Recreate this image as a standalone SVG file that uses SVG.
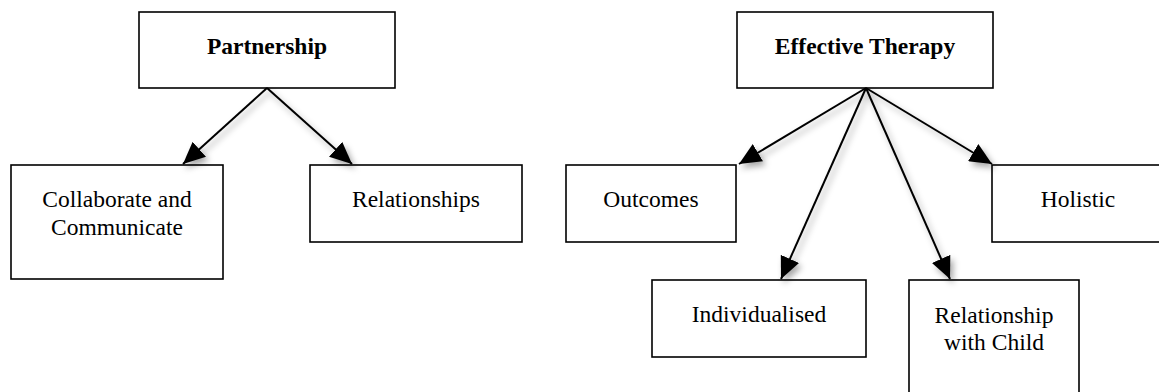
<svg xmlns="http://www.w3.org/2000/svg" width="1159" height="392" viewBox="0 0 1159 392">
<style>
.box{fill:#fff;stroke:#000;stroke-width:1.6}
.t{font-family:"Liberation Serif","Times New Roman",serif;font-size:23.5px;fill:#000;text-anchor:middle}
.b{font-weight:bold}
.c{stroke:#000;stroke-width:2;fill:none;marker-end:url(#ah)}
</style>
<defs>
<marker id="ah" viewBox="0 0 22 20" refX="22" refY="10" markerWidth="22" markerHeight="20" markerUnits="userSpaceOnUse" orient="auto">
<path d="M0,0 L22,10 L0,20 z" fill="#000"/>
</marker>
<filter id="sh" x="-20%" y="-20%" width="140%" height="140%">
<feDropShadow dx="3" dy="4" stdDeviation="3" flood-color="#000" flood-opacity="0.35"/>
</filter>
</defs>
<rect width="1159" height="392" fill="#fff"/>
<g id="partnership"><rect class="box" x="139" y="12" width="256" height="76"/><text class="t b" x="267" y="54">Partnership</text></g>
<g id="collaborate"><rect class="box" x="11" y="165" width="212" height="114"/><text class="t" x="117" y="207">Collaborate and</text><text class="t" x="117" y="235">Communicate</text></g>
<g id="relationships"><rect class="box" x="310" y="165" width="212" height="77"/><text class="t" x="416" y="207">Relationships</text></g>
<g id="effective"><rect class="box" x="737" y="12" width="256" height="76"/><text class="t b" x="865" y="54">Effective Therapy</text></g>
<g id="outcomes"><rect class="box" x="566" y="165" width="170" height="77"/><text class="t" x="651" y="207">Outcomes</text></g>
<g id="holistic"><rect class="box" x="992" y="165" width="180" height="77"/><text class="t" x="1078" y="207">Holistic</text></g>
<g id="individualised"><rect class="box" x="652" y="280" width="214" height="77"/><text class="t" x="759" y="322">Individualised</text></g>
<g id="relchild"><rect class="box" x="909" y="280" width="170" height="125"/><text class="t" x="994" y="323">Relationship</text><text class="t" x="994" y="350">with Child</text></g>
<g id="connectors" filter="url(#sh)">
<line class="c" x1="267" y1="88" x2="183" y2="164"/>
<line class="c" x1="267" y1="88" x2="352" y2="164"/>
<line class="c" x1="866" y1="88" x2="739" y2="164"/>
<line class="c" x1="866" y1="88" x2="781" y2="279"/>
<line class="c" x1="866" y1="88" x2="950" y2="279"/>
<line class="c" x1="866" y1="88" x2="992" y2="164"/>
</g>
</svg>
